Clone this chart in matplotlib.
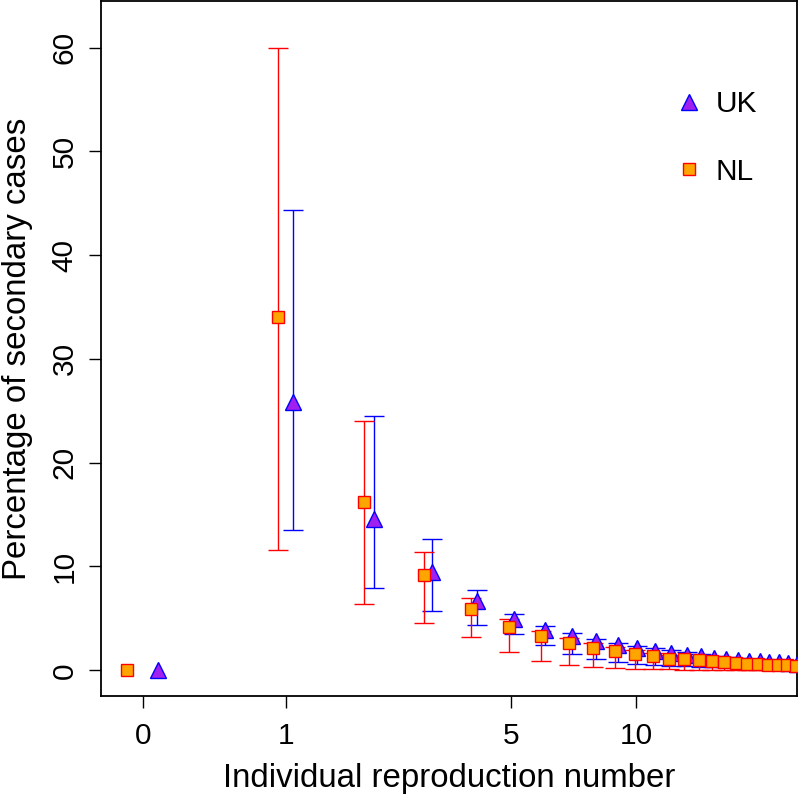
import matplotlib
matplotlib.use("Agg")
import matplotlib.pyplot as plt
import numpy as np

# Individual reproduction number (0..23)
r_values = list(range(24))

uk_mean = [0, 25.8, 14.6, 9.45, 6.67, 4.9, 3.9, 3.28, 2.8, 2.4, 2.1, 1.9,
           1.7, 1.5, 1.33, 1.17, 1.08, 0.99, 0.92, 0.86, 0.81, 0.76, 0.68, 0.62]
uk_low = [0, 13.5, 7.95, 5.67, 4.39, 3.46, 2.43, 1.6, 1.06, 0.8, 0.58, 0.5,
          0.45, 0.4, 0.36, 0.33, 0.3, 0.28, 0.26, 0.24, 0.22, 0.2, 0.19, 0.18]
uk_high = [0, 44.3, 24.5, 12.66, 7.72, 5.45, 4.26, 3.55, 3.05, 2.65, 2.35, 2.12,
           1.92, 1.72, 1.55, 1.4, 1.3, 1.2, 1.12, 1.05, 0.98, 0.92, 0.85, 0.8]

nl_mean = [0, 34.0, 16.2, 9.2, 5.87, 4.2, 3.3, 2.66, 2.18, 1.86, 1.6, 1.38,
           1.12, 1.04, 0.95, 0.87, 0.8, 0.71, 0.65, 0.6, 0.55, 0.51, 0.47, 0.42]
nl_low = [0, 11.57, 6.35, 4.58, 3.17, 1.76, 0.9, 0.51, 0.32, 0.19, 0.12, 0.1,
          0.08, 0.07, 0.06, 0.05, 0.05, 0.04, 0.04, 0.03, 0.03, 0.03, 0.02, 0.02]
nl_high = [0, 60.0, 24.0, 11.37, 6.96, 4.9, 3.78, 3.08, 2.66, 2.2, 1.95, 1.7,
           1.45, 1.3, 1.2, 1.1, 1.0, 0.92, 0.85, 0.8, 0.74, 0.7, 0.65, 0.6]

x_ticks = [0, 1, 5, 10]
y_ticks = [0, 10, 20, 30, 40, 50, 60]

FONT = "Liberation Sans"
plt.rcParams["font.family"] = FONT

fig = plt.figure(figsize=(7.98, 7.95), dpi=100)
ax = fig.add_axes([0.1266, 0.1245, 0.8722, 0.8742])

# x axis is log(x + 1)
ax.set_xscale("function", functions=(np.log1p, np.expm1))

r = np.array(r_values, dtype=float)
x_uk = r + 0.075
x_nl = r - 0.075


def draw_bars(x, mean, low, high, color):
    mean = np.array(mean)
    low = np.array(low)
    high = np.array(high)
    ax.errorbar(x[1:], mean[1:], yerr=[mean[1:] - low[1:], high[1:] - mean[1:]],
                fmt="none", ecolor=color, elinewidth=1.0, capsize=7,
                capthick=1.0, zorder=2)


draw_bars(x_uk, uk_mean, uk_low, uk_high, "#0000ff")
draw_bars(x_nl, nl_mean, nl_low, nl_high, "#ff0000")

ax.plot(x_uk, uk_mean, linestyle="none", marker="^", markersize=11.5,
        markerfacecolor="#a020f0", markeredgecolor="#0000ff",
        markeredgewidth=1.0, label="UK", zorder=3)
ax.plot(x_nl, nl_mean, linestyle="none", marker="s", markersize=8,
        markerfacecolor="#ffa500", markeredgecolor="#ff0000",
        markeredgewidth=1.0, label="NL", zorder=4)

ax.set_xlim(-0.186, 23.1)
ax.set_ylim(-2.48, 64.48)

ax.set_xticks(x_ticks)
ax.set_xticklabels([str(t) for t in x_ticks])
ax.set_yticks(y_ticks)
ax.set_yticklabels([str(t) for t in y_ticks], rotation=90, va="center")
ax.minorticks_off()

ax.tick_params(axis="both", direction="out", length=8.6, width=1.0,
               labelsize=21.5)
ax.tick_params(axis="x", pad=10)
ax.tick_params(axis="y", pad=7.5)
for spine in ax.spines.values():
    spine.set_linewidth(1.3)

ax.set_xlabel("Individual reproduction number", fontsize=23.8, labelpad=9.5)
ax.set_ylabel("Percentage of secondary cases", fontsize=23.8, labelpad=13)

ax.legend(loc="upper right", bbox_to_anchor=(0.96, 0.889), frameon=False,
          fontsize=21.5, labelspacing=1.33, handletextpad=0.3,
          handlelength=1.2, borderaxespad=0)

fig.savefig("out.png", dpi=100)
